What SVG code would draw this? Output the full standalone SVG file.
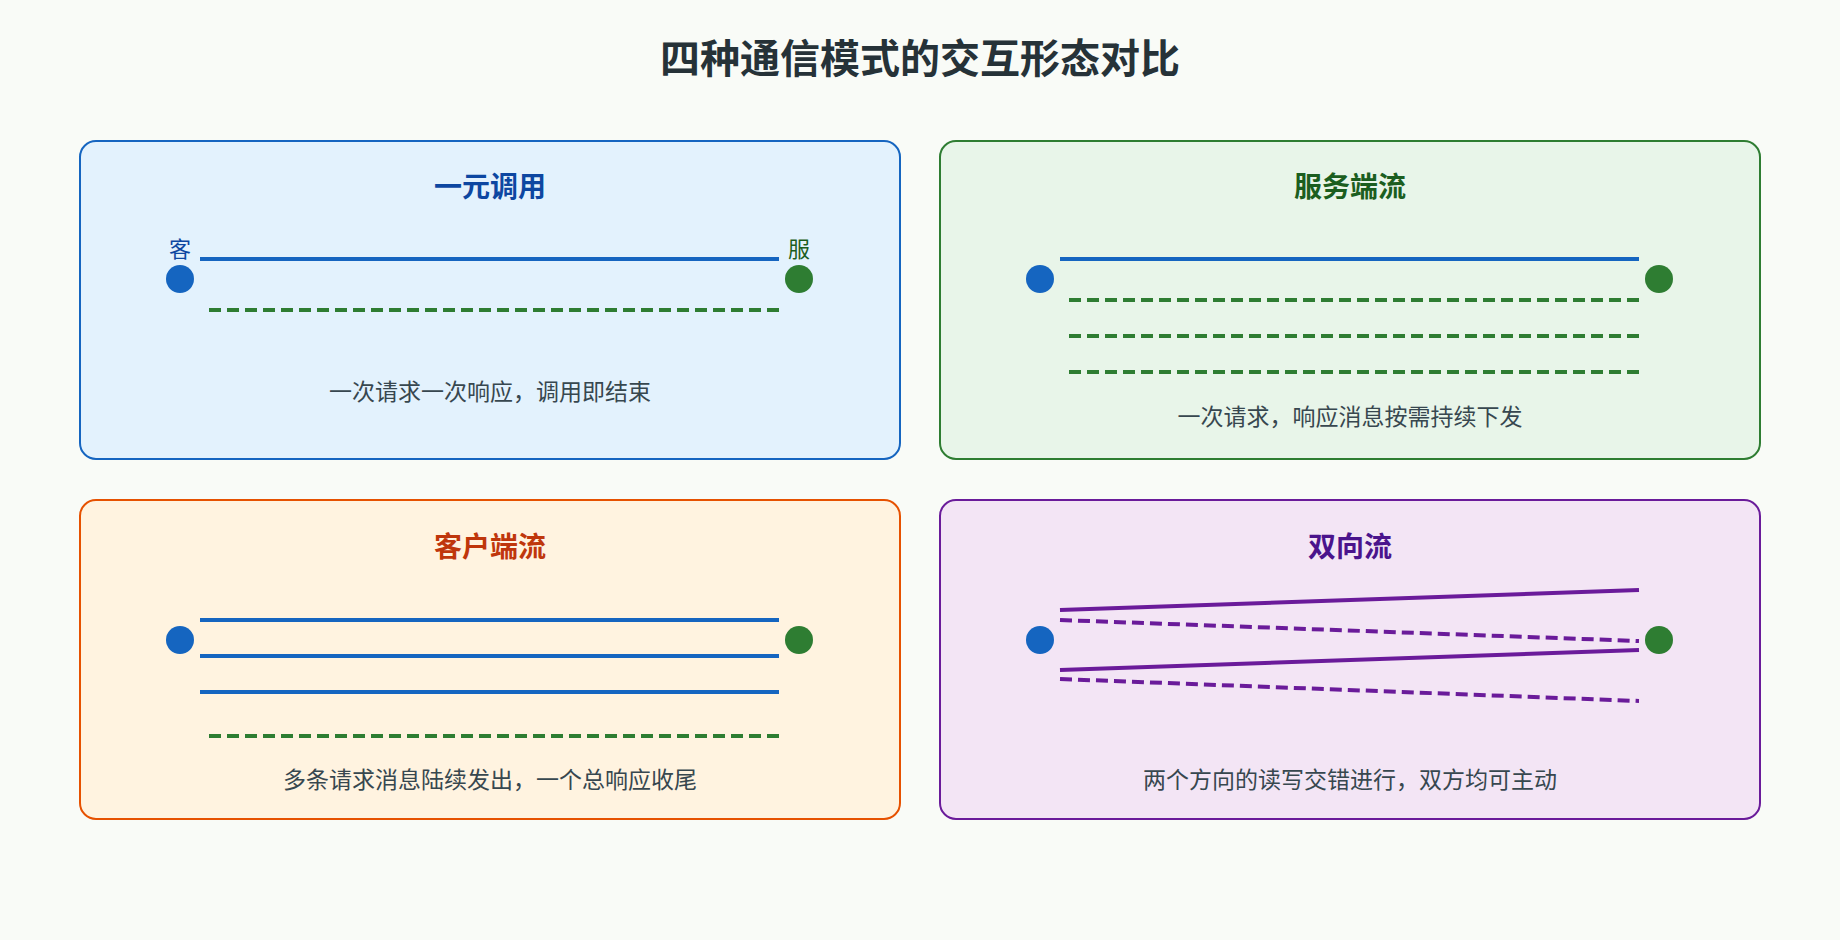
<svg xmlns="http://www.w3.org/2000/svg" width="1840" height="940" viewBox="0 0 1840 940">
<style>
text{font-family:"Noto Sans CJK SC","Liberation Sans",sans-serif;text-anchor:middle}
.title{font-size:40px;font-weight:bold;fill:#263238}
.pt{font-size:28px;font-weight:bold}
.cap{font-size:23px;fill:#37474f}
.lbl{font-size:22px}
.panel{stroke-width:2}
.req{stroke:#1565c0;stroke-width:4;fill:none}
.res{stroke:#2e7d32;stroke-width:4;fill:none;stroke-dasharray:12 6}
.bs{stroke:#6a1b9a;stroke-width:4;fill:none}
.bd{stroke:#6a1b9a;stroke-width:4;fill:none;stroke-dasharray:12 6}
.c{fill:#1565c0}.s{fill:#2e7d32}
</style>
<rect width="1840" height="940" fill="#f9fbf7"/>
<text class="title" x="920" y="73">四种通信模式的交互形态对比</text>
<g id="unary">
<rect class="panel" x="80" y="141" width="820" height="318" rx="16" fill="#e3f2fd" stroke="#1565c0"/>
<text class="pt" x="490" y="197" fill="#0d47a1">一元调用</text>
<text class="lbl" x="180" y="257" fill="#0d47a1">客</text>
<text class="lbl" x="799" y="257" fill="#1b5e20">服</text>
<circle class="c" cx="180" cy="279" r="14"/><circle class="s" cx="799" cy="279" r="14"/>
<text class="cap" x="490" y="400">一次请求一次响应，调用即结束</text>
</g>
<g id="server-stream">
<rect class="panel" x="940" y="141" width="820" height="318" rx="16" fill="#e8f5e9" stroke="#2e7d32"/>
<text class="pt" x="1350" y="197" fill="#1b5e20">服务端流</text>
<circle class="c" cx="1040" cy="279" r="14"/><circle class="s" cx="1659" cy="279" r="14"/>
<text class="cap" x="1350" y="425">一次请求，响应消息按需持续下发</text>
</g>
<g id="client-stream">
<rect class="panel" x="80" y="500" width="820" height="319" rx="16" fill="#fff3e0" stroke="#e65100"/>
<text class="pt" x="490" y="557" fill="#bf360c">客户端流</text>
<circle class="c" cx="180" cy="640" r="14"/><circle class="s" cx="799" cy="640" r="14"/>
<text class="cap" x="490" y="788">多条请求消息陆续发出，一个总响应收尾</text>
</g>
<g id="bidi-stream">
<rect class="panel" x="940" y="500" width="820" height="319" rx="16" fill="#f3e5f5" stroke="#6a1b9a"/>
<text class="pt" x="1350" y="557" fill="#4a148c">双向流</text>
<circle class="c" cx="1040" cy="640" r="14"/><circle class="s" cx="1659" cy="640" r="14"/>
<text class="cap" x="1350" y="788">两个方向的读写交错进行，双方均可主动</text>
</g>
<g id="connectors">
<line class="req" x1="200" y1="259" x2="779" y2="259"/>
<line class="res" x1="209" y1="310" x2="779" y2="310"/>
<line class="req" x1="1060" y1="259" x2="1639" y2="259"/>
<line class="res" x1="1069" y1="300" x2="1639" y2="300"/>
<line class="res" x1="1069" y1="336" x2="1639" y2="336"/>
<line class="res" x1="1069" y1="372" x2="1639" y2="372"/>
<line class="req" x1="200" y1="620" x2="779" y2="620"/>
<line class="req" x1="200" y1="656" x2="779" y2="656"/>
<line class="req" x1="200" y1="692" x2="779" y2="692"/>
<line class="res" x1="209" y1="736" x2="779" y2="736"/>
<line class="bs" x1="1060" y1="610" x2="1639" y2="590"/>
<line class="bd" x1="1060" y1="620" x2="1639" y2="641"/>
<line class="bs" x1="1060" y1="670" x2="1639" y2="650"/>
<line class="bd" x1="1060" y1="679" x2="1639" y2="701"/>
</g>
</svg>
